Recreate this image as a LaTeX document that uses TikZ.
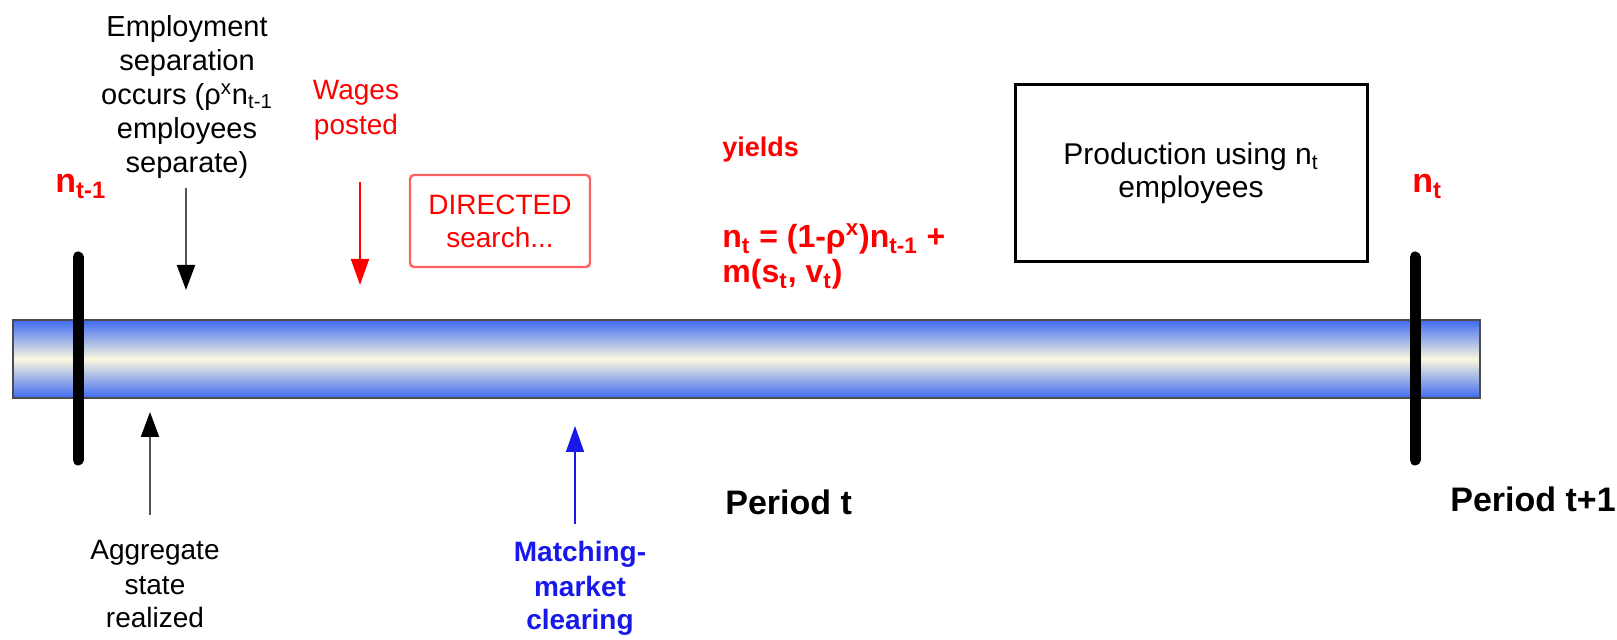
\documentclass[tikz,border=0pt]{standalone}
\usepackage{fontspec}
\setmainfont{Liberation Sans}
\usetikzlibrary{arrows.meta}
\definecolor{BarBlue}{RGB}{62,106,242}
\definecolor{BarCream}{RGB}{250,248,222}
\definecolor{NoteRed}{RGB}{255,0,0}
\definecolor{BoxRed}{RGB}{255,96,96}
\definecolor{NoteBlue}{RGB}{24,24,235}
\definecolor{ShaftGray}{RGB}{85,85,85}

\begin{document}
\begin{tikzpicture}[
    x=0.5pt,
    y=-0.5pt,
    note/.style={
        align=center,
        inner sep=0pt,
        anchor=base,
        font=\fontsize{14.5}{17.1}\selectfont
    },
    rednote/.style={
        note,
        text=NoteRed,
        font=\fontsize{14}{17.5}\selectfont
    },
    hot/.style={
        inner sep=0pt,
        anchor=base west,
        text=NoteRed,
        font=\bfseries\fontsize{17}{20}\selectfont
    },
    period/.style={
        inner sep=0pt,
        anchor=base west,
        font=\bfseries\fontsize{17}{20}\selectfont
    },
    timebar/.style={
        draw=black!70,
        line width=0.6pt,
        top color=BarBlue,
        bottom color=BarBlue,
        middle color=BarCream,
        minimum width=733.5pt,
        minimum height=39pt,
        inner sep=0pt
    },
    tickmark/.style={
        line width=5.5pt,
        line cap=round
    },
    searchbox/.style={
        draw=BoxRed,
        line width=1.2pt,
        rounded corners=2pt,
        minimum width=90pt,
        minimum height=46pt,
        align=center,
        text=NoteRed,
        font=\fontsize{14}{16.5}\selectfont
    },
    prodbox/.style={
        draw,
        line width=1.5pt,
        minimum width=176pt,
        minimum height=88.5pt,
        align=center,
        font=\fontsize{15}{16.5}\selectfont
    },
    blackarrow/.style={
        -{Triangle[length=12.5pt,width=9pt,color=black]},
        line width=1pt,
        draw=ShaftGray
    },
    redarrow/.style={
        -{Triangle[length=13pt,width=9pt]},
        line width=1pt,
        draw=NoteRed
    },
    bluearrow/.style={
        -{Triangle[length=13pt,width=9pt]},
        line width=0.8pt,
        draw=NoteBlue
    }
]
\useasboundingbox (0,0) rectangle (1617,640);

% time line and period marks
\node[timebar] (bar) at (746.5,359) {};
\coordinate (tickA top) at (78,257);
\coordinate (tickA bot) at (78,460);
\coordinate (tickB top) at (1415,257);
\coordinate (tickB bot) at (1415,460);
\draw[tickmark] (tickA top) -- (tickA bot);
\draw[tickmark] (tickB top) -- (tickB bot);

\node[hot] (nprev) at (55,193) {n\textsubscript{t-1}};
\node[hot] (nnow) at (1412,193) {n\textsubscript{t}};

% events above the line (base = last line)
\node[note] (separation) at (187,173) {Employment\\separation\\occurs (ρ\textsuperscript{x}n\textsubscript{t-1}\\employees\\separate)};
\node[rednote] (wages) at (356,135) {Wages\\posted};
\node[searchbox] (directed) at (500,221) {DIRECTED\\search...};

\node[hot, font=\bfseries\fontsize{13.5}{16}\selectfont] (yields) at (722,157) {yields};
\node[hot, align=left, font=\bfseries\fontsize{16}{17.5}\selectfont] (law) at (722,283)
    {n\textsubscript{t} = (1-ρ\textsuperscript{x})n\textsubscript{t-1} +\\m(s\textsubscript{t}, v\textsubscript{t})};

\node[prodbox] (production) at (1191,173.5) {Production using n\textsubscript{t}\\employees};

% events below the line
\node[note, font=\fontsize{14}{17}\selectfont] (aggregate) at (155,628) {Aggregate\\state\\realized};
\node[note, text=NoteBlue, font=\bfseries\fontsize{14}{17}\selectfont] (matching) at (580,630) {Matching-\\market\\clearing};

\node[period] (periodt) at (725,515) {Period t};
\node[period] (periodnext) at (1450,512) {Period t+1};

% arrows
\coordinate (sep from) at (186,188);
\coordinate (sep to) at (186,290);
\coordinate (wage from) at (360,182);
\coordinate (wage to) at (360,285);
\coordinate (agg from) at (150,515);
\coordinate (agg to) at (150,412);
\coordinate (match from) at (575,524);
\coordinate (match to) at (575,426);

\draw[blackarrow] (sep from) -- (sep to);
\draw[redarrow] (wage from) -- (wage to);
\draw[blackarrow] (agg from) -- (agg to);
\draw[bluearrow] (match from) -- (match to);

\end{tikzpicture}
\end{document}
